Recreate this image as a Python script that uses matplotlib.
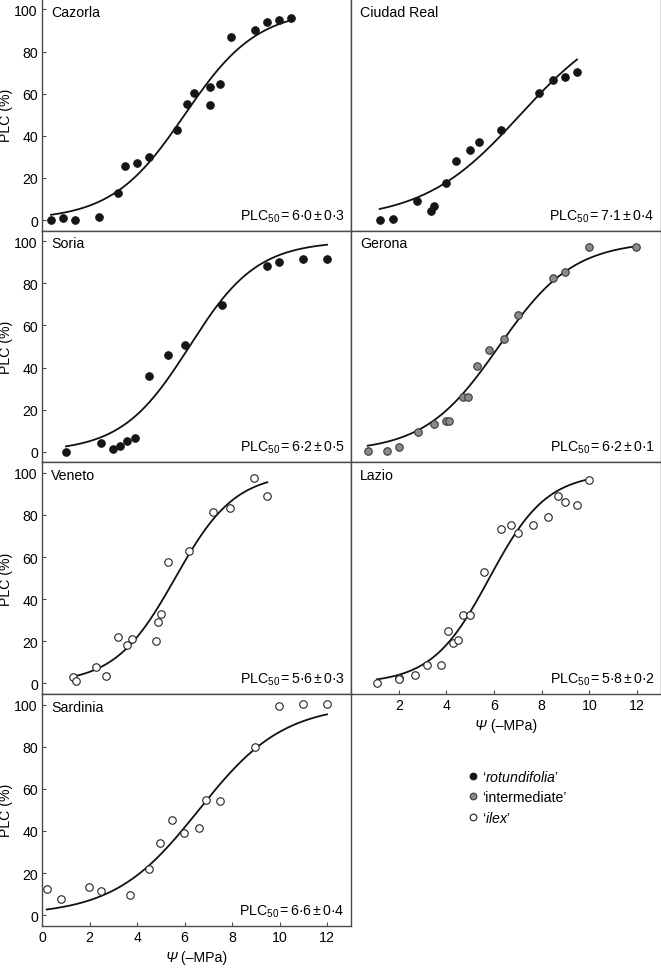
import numpy as np
import matplotlib
matplotlib.use("Agg")
from matplotlib import pyplot as plt
from matplotlib.lines import Line2D
from matplotlib.offsetbox import TextArea, HPacker, AnchoredOffsetbox

plt.rcParams['font.family'] = ['Liberation Sans', 'DejaVu Sans']
plt.rcParams['font.size'] = 10.2
plt.rcParams['mathtext.fontset'] = 'custom'
plt.rcParams['mathtext.rm'] = 'Liberation Sans'
plt.rcParams['mathtext.it'] = 'Liberation Sans:italic'

# site names, PLC50 labels and fitted slopes
sites = ['Cazorla', 'Ciudad Real', 'Soria', 'Gerona', 'Veneto', 'Lazio', 'Sardinia']
p50 = [6.0, 7.1, 6.2, 6.2, 5.6, 5.8, 6.6]
p50_err = [0.3, 0.4, 0.5, 0.1, 0.3, 0.2, 0.4]
slope = [0.652, 0.49, 0.70, 0.64, 0.79, 0.83, 0.56]
group = ['rotundifolia', 'rotundifolia', 'rotundifolia', 'intermediate', 'ilex', 'ilex', 'ilex']

# measured points (water potential, -MPa ; PLC, %)
cazorla_x = [0.38, 0.90, 1.40, 2.39, 3.20, 3.50, 4.00, 4.50, 5.69, 6.08, 6.39, 7.06, 7.06, 7.48, 7.96, 8.98, 9.47, 9.96, 10.48]
cazorla_y = [0.0, 1.0, 0.2, 1.3, 12.8, 25.8, 26.9, 29.8, 42.6, 55.3, 60.1, 63.2, 54.7, 64.8, 86.9, 90.0, 94.0, 95.1, 96.0]

ciudad_x = [1.20, 1.78, 2.78, 3.37, 3.50, 3.99, 4.39, 4.97, 5.38, 6.28, 7.87, 8.46, 8.98, 9.48]
ciudad_y = [0.0, 0.3, 9.2, 4.1, 6.8, 17.4, 27.9, 33.1, 36.9, 42.6, 60.5, 66.7, 68.1, 70.2]

soria_x = [1.01, 2.49, 2.99, 3.30, 3.59, 3.90, 4.50, 5.29, 6.01, 7.59, 9.47, 9.97, 10.98, 11.99]
soria_y = [0.0, 4.4, 1.3, 2.7, 5.1, 6.7, 35.8, 46.1, 50.9, 69.6, 88.1, 90.3, 91.3, 91.3]

gerona_x = [0.70, 1.50, 2.00, 2.80, 3.50, 3.99, 4.10, 4.69, 4.90, 5.29, 5.80, 6.41, 6.99, 8.49, 8.97, 10.0, 11.97]
gerona_y = [0.5, 0.5, 2.2, 9.5, 13.3, 14.4, 14.6, 26.1, 26.1, 40.6, 48.5, 53.6, 65.1, 82.7, 85.3, 97.0, 97.3]

veneto_x = [1.29, 1.41, 2.29, 2.70, 3.19, 3.58, 3.79, 4.81, 4.90, 4.99, 5.30, 6.18, 7.19, 7.90, 8.90, 9.48]
veneto_y = [3.2, 1.3, 7.8, 3.7, 21.9, 18.1, 20.9, 20.3, 29.4, 33.0, 57.5, 62.9, 81.6, 83.2, 97.5, 88.9]

lazio_x = [1.09, 2.00, 2.00, 2.70, 3.20, 3.77, 4.06, 4.29, 4.48, 4.69, 4.99, 5.57, 6.29, 6.69, 6.99, 7.65, 8.27, 8.69, 8.97, 9.47, 9.97]
lazio_y = [0.3, 2.5, 2.2, 4.0, 8.7, 8.6, 25.1, 19.4, 20.6, 32.4, 32.4, 53.0, 73.3, 75.4, 71.3, 75.4, 79.2, 89.2, 86.2, 84.8, 96.5]

sardinia_x = [0.20, 0.80, 1.99, 2.50, 3.69, 4.49, 4.98, 5.47, 5.99, 6.59, 6.88, 7.47, 8.97, 9.99, 10.98, 11.99]
sardinia_y = [12.5, 7.9, 13.6, 11.7, 9.5, 22.0, 34.3, 45.1, 39.1, 41.6, 54.6, 54.3, 79.7, 99.2, 100.3, 100.2]

xs = [cazorla_x, ciudad_x, soria_x, gerona_x, veneto_x, lazio_x, sardinia_x]
ys = [cazorla_y, ciudad_y, soria_y, gerona_y, veneto_y, lazio_y, sardinia_y]

styles = {
    'rotundifolia': dict(mfc='#151515', mec='#151515'),
    'intermediate': dict(mfc='#8a8a8a', mec='#3a3a3a'),
    'ilex': dict(mfc='white', mec='#222222'),
}
legend_labels = {
    'rotundifolia': '\u2018$\\mathit{rotundifolia}$\u2019',
    'intermediate': '\u2018intermediate\u2019',
    'ilex': '\u2018$\\mathit{ilex}$\u2019',
}

fig = plt.figure(figsize=(6.61, 9.70), dpi=100)

left = [42 / 661, 351 / 661]
width = [309 / 661, 310 / 661]
h = 231.7 / 970
bottoms = [43.3 / 970 + h * k for k in (3, 2, 1, 0)]

# (row, col) for each site
pos = [(0, 0), (0, 1), (1, 0), (1, 1), (2, 0), (2, 1), (3, 0)]
spine_col = '#4a4a4a'

for i, name in enumerate(sites):
    r, c = pos[i]
    ax = fig.add_axes([left[c], bottoms[r], width[c], h])
    x = np.array(xs[i])
    y = np.array(ys[i])
    xf = np.linspace(x.min(), x.max(), 300)
    yf = 100 / (1 + np.exp(-slope[i] * (xf - p50[i])))
    ax.plot(xf, yf, color='#111111', lw=1.3, zorder=2)
    ax.plot(x, y, 'o', ms=5.4, mew=0.8, zorder=3, **styles[group[i]])

    ax.set_xlim(0, 13)
    ax.set_ylim(-5, 105)
    for s in ax.spines.values():
        s.set_color(spine_col)
        s.set_linewidth(1.0)

    bottom_panel = name in ('Sardinia', 'Lazio')
    ax.tick_params(direction='in', length=3, width=0.8, color=spine_col, pad=3)
    if c == 0:
        ax.set_yticks([0, 20, 40, 60, 80, 100])
        ax.set_ylabel('PLC (%)', labelpad=1)
    else:
        ax.set_yticks([])
    if bottom_panel:
        if c == 0:
            ax.set_xticks([0, 2, 4, 6, 8, 10, 12])
        else:
            ax.set_xticks([2, 4, 6, 8, 10, 12])
        xlab = HPacker(children=[TextArea('\u03a8', textprops=dict(style='italic')),
                                 TextArea(' (\u2013MPa)')], align='baseline', pad=0, sep=0)
        ax.add_artist(AnchoredOffsetbox(loc='center', child=xlab, pad=0, borderpad=0,
                                        frameon=False, bbox_to_anchor=(0.5, -0.135),
                                        bbox_transform=ax.transAxes))
    else:
        ax.set_xticks([])

    ax.text(0.03, 0.975, name, transform=ax.transAxes, ha='left', va='top')
    lab = 'PLC$_{50}\\,$=$\\,$%s$\\,$\u00b1$\\,$%s' % (str(p50[i]).replace('.', '\u00b7'),
                                                      str(p50_err[i]).replace('.', '\u00b7'))
    ax.text(0.98, 0.03, lab, transform=ax.transAxes, ha='right', va='bottom')

handles = [Line2D([], [], ls='none', marker='o', ms=4.8, mew=0.8, **styles[g])
           for g in ('rotundifolia', 'intermediate', 'ilex')]
labels = [legend_labels[g] for g in ('rotundifolia', 'intermediate', 'ilex')]
fig.legend(handles, labels, loc='center left', bbox_to_anchor=(462 / 661, 1 - 798 / 970),
           frameon=False, handlelength=0.6, handletextpad=0.3, labelspacing=0.4,
           borderpad=0, fontsize=10.2)

fig.savefig('out.png', dpi=100)
